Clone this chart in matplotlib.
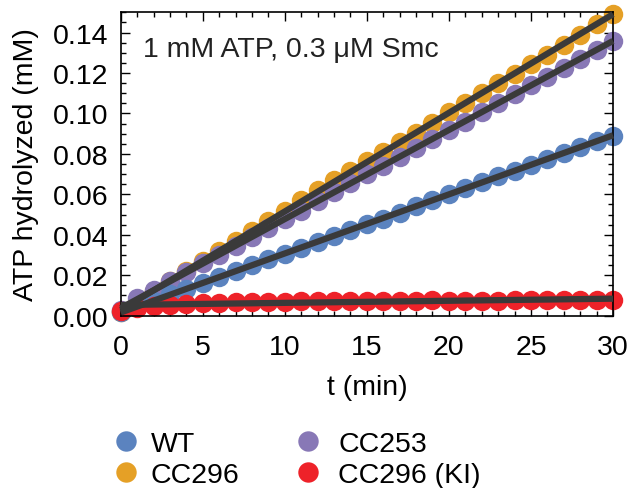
import numpy as np
import matplotlib
matplotlib.use("Agg")
import matplotlib.pyplot as plt
from matplotlib.ticker import MultipleLocator

plt.rcParams['font.family'] = ['Liberation Sans', 'DejaVu Sans']

t = list(range(0, 31))

wt = [0.0020, 0.0045, 0.0075, 0.0105, 0.0130, 0.0160, 0.0190, 0.0220, 0.0250, 0.0280,
      0.0305, 0.0335, 0.0365, 0.0395, 0.0425, 0.0455, 0.0480, 0.0510, 0.0540, 0.0570,
      0.0600, 0.0630, 0.0660, 0.0690, 0.0715, 0.0745, 0.0775, 0.0805, 0.0835, 0.0865,
      0.0890]
cc296 = [0.0020, 0.0070, 0.0120, 0.0170, 0.0220, 0.0270, 0.0320, 0.0370, 0.0420, 0.0470,
         0.0520, 0.0570, 0.0620, 0.0670, 0.0715, 0.0765, 0.0810, 0.0860, 0.0905, 0.0955,
         0.1005, 0.1050, 0.1100, 0.1148, 0.1195, 0.1245, 0.1290, 0.1340, 0.1390, 0.1440,
         0.1490]
cc253 = [0.0030, 0.0085, 0.0125, 0.0170, 0.0215, 0.0260, 0.0300, 0.0345, 0.0390, 0.0435,
         0.0480, 0.0520, 0.0565, 0.0610, 0.0655, 0.0700, 0.0740, 0.0785, 0.0830, 0.0875,
         0.0920, 0.0960, 0.1005, 0.1050, 0.1095, 0.1140, 0.1180, 0.1225, 0.1270, 0.1315,
         0.1360]
cc296_ki = [0.0025, 0.0040, 0.0050, 0.0055, 0.0058, 0.0062, 0.0065, 0.0066, 0.0068, 0.0069,
            0.0070, 0.0071, 0.0072, 0.0072, 0.0073, 0.0073, 0.0074, 0.0074, 0.0075, 0.0077,
            0.0075, 0.0074, 0.0075, 0.0075, 0.0076, 0.0076, 0.0077, 0.0077, 0.0076, 0.0077,
            0.0077]

series = [
    ("CC296", cc296, "#e5a026"),
    ("CC253", cc253, "#8878b6"),
    ("WT", wt, "#5b83bf"),
    ("CC296 (KI)", cc296_ki, "#ee2229"),
]

FS = 20.5

fig = plt.figure(figsize=(6.30, 4.89), dpi=100)
ax = fig.add_axes([0.1916, 0.3524, 0.7814, 0.6204])

handles = {}
for name, y, col in series:
    h, = ax.plot(t, y, 'o', color=col, markersize=14, markeredgewidth=0,
                 clip_on=False, zorder=2, label=name)
    handles[name] = h

tx = np.array(t, dtype=float)
for name, y, col in series:
    p = np.polyfit(tx, np.array(y), 1)
    xs = np.array([0.0, 30.0])
    ax.plot(xs, np.polyval(p, xs), color="#3a3a3a", lw=4.5,
            solid_capstyle='butt', zorder=3, clip_on=False)

ax.set_xlim(0, 30)
ax.set_ylim(0, 0.15)
ax.xaxis.set_major_locator(MultipleLocator(5))
ax.xaxis.set_minor_locator(MultipleLocator(1))
ax.yaxis.set_major_locator(MultipleLocator(0.02))
ax.yaxis.set_minor_locator(MultipleLocator(0.005))
ax.yaxis.set_major_formatter(matplotlib.ticker.FormatStrFormatter('%.2f'))
ax.tick_params(which='both', direction='in', top=True, right=True,
               labelsize=FS, width=1.0)
ax.tick_params(axis='x', which='major', pad=13)
ax.tick_params(axis='y', which='major', pad=9)
ax.tick_params(which='major', length=6.5)
ax.tick_params(which='minor', length=3.6)
for s in ax.spines.values():
    s.set_linewidth(1.2)

ax.set_xlabel("t (min)", fontsize=FS, labelpad=10)
ax.set_ylabel("ATP hydrolyzed (mM)", fontsize=FS, labelpad=10)
ax.text(0.045, 0.879, "1 mM ATP, 0.3 \u03bcM Smc", transform=ax.transAxes,
        fontsize=FS, color="#222222", va='center', ha='left')

col1 = ["WT", "CC296"]
col2 = ["CC253", "CC296 (KI)"]
common = dict(frameon=False, fontsize=FS, loc='upper left',
              bbox_transform=fig.transFigure, labelspacing=0.2,
              handlelength=1.1, markerscale=1.05, borderpad=0.2)
fig.legend([handles[n] for n in col1], col1, bbox_to_anchor=(0.144, 0.158),
           handletextpad=0.3, **common)
fig.legend([handles[n] for n in col2], col2, bbox_to_anchor=(0.433, 0.158),
           handletextpad=0.5, **common)

fig.savefig("out.png", dpi=100)
